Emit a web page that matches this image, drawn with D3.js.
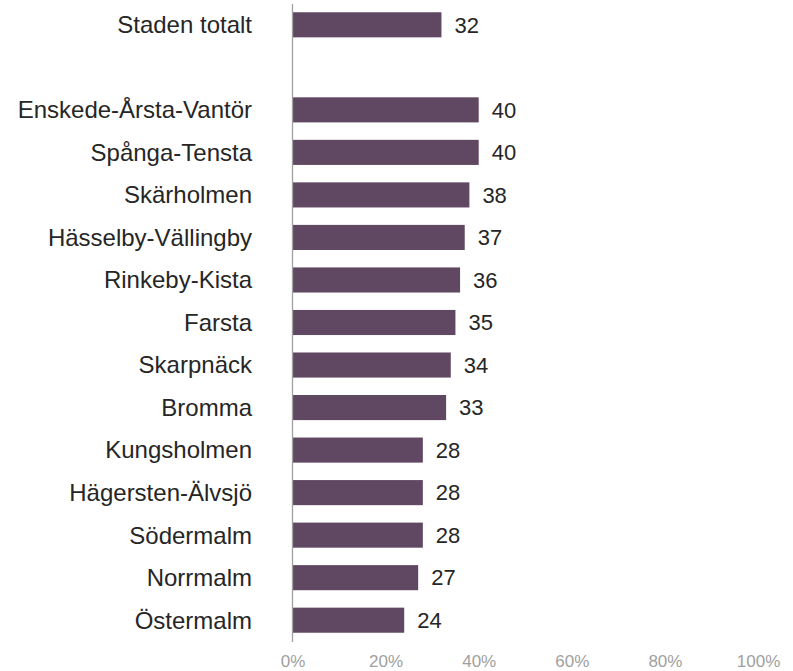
<!DOCTYPE html>
<html><head><meta charset="utf-8">
<script src="https://cdn.jsdelivr.net/npm/d3@7"></script>
<style>body{margin:0;background:#fff}svg{display:block}</style>
</head><body>
<svg id="c" width="793" height="671"></svg>
<script>
const categories = ["Staden totalt", "", "Enskede-Årsta-Vantör", "Spånga-Tensta", "Skärholmen", "Hässelby-Vällingby", "Rinkeby-Kista", "Farsta", "Skarpnäck", "Bromma", "Kungsholmen", "Hägersten-Älvsjö", "Södermalm", "Norrmalm", "Östermalm"];
const values = [32, null, 40, 40, 38, 37, 36, 35, 34, 33, 28, 28, 28, 27, 24];
const tickValues = [0, 20, 40, 60, 80, 100];

const svg = d3.select("#c");
const x = d3.scaleLinear().domain([0, 100]).range([292.5, 758]);
const y = d3.scaleBand().domain(categories.map((c, i) => i)).range([3.75, 641.25]).paddingInner(0.41).paddingOuter(0.2);
const font = "'Liberation Sans', Arial, sans-serif";

svg.append("g").selectAll("rect").data(values.map((v, i) => ({v, i})).filter(d => d.v != null))
  .join("rect")
  .attr("x", x(0)).attr("y", d => y(d.i)).attr("width", d => x(d.v) - x(0)).attr("height", y.bandwidth())
  .attr("fill", "#614862");

svg.append("g").selectAll("text").data(values.map((v, i) => ({v, i})).filter(d => d.v != null))
  .join("text")
  .attr("x", d => x(d.v) + 13).attr("y", d => y(d.i) + y.bandwidth() / 2).attr("dy", "0.35em")
  .attr("font-family", font).attr("font-size", 22).attr("fill", "#262626")
  .text(d => d.v);

svg.append("g").selectAll("text").data(categories.map((c, i) => ({c, i})))
  .join("text")
  .attr("x", 252).attr("y", d => y(d.i) + y.bandwidth() / 2).attr("dy", "0.35em")
  .attr("text-anchor", "end").attr("font-family", font).attr("font-size", 24).attr("fill", "#262626")
  .text(d => d.c);

svg.append("line").attr("x1", x(0)).attr("x2", x(0)).attr("y1", 4).attr("y2", 642)
  .attr("stroke", "#a0a0a0").attr("stroke-width", 1.3);

const xAxis = d3.axisBottom(x).tickValues(tickValues).tickSize(0).tickPadding(0).tickFormat(d => d + "%");
const gx = svg.append("g").attr("transform", "translate(0,667)").call(xAxis);
gx.select(".domain").remove();
gx.selectAll("text").attr("font-family", font).attr("font-size", 17).attr("fill", "#a0a0a0").attr("y", 0).attr("dy", 0);
</script>
</body></html>
